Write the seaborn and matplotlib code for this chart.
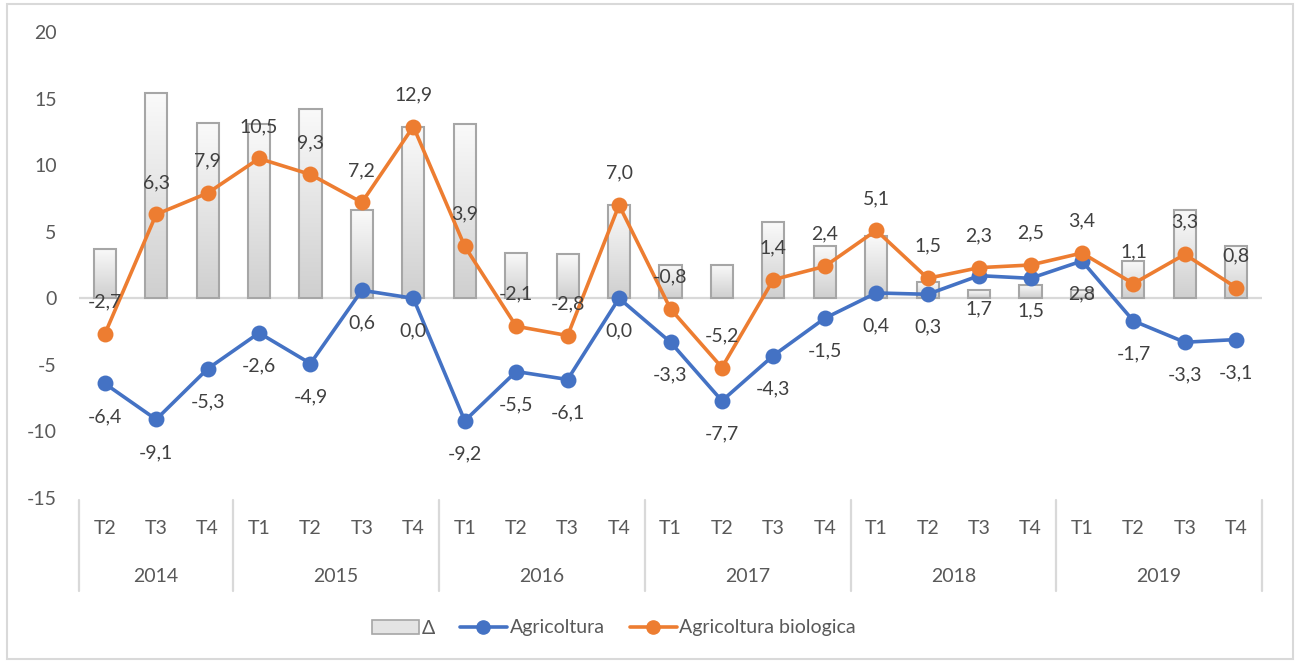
import numpy as np
import pandas as pd
import matplotlib
matplotlib.use("Agg")
import matplotlib.pyplot as plt
import matplotlib.transforms as mtransforms
from matplotlib.patches import Rectangle, Patch
from matplotlib.lines import Line2D
from matplotlib.colors import LinearSegmentedColormap
import seaborn as sns

# ---- data ----
years = ["2014", "2015", "2016", "2017", "2018", "2019"]
quarters_per_year = [["T2", "T3", "T4"],
                     ["T1", "T2", "T3", "T4"],
                     ["T1", "T2", "T3", "T4"],
                     ["T1", "T2", "T3", "T4"],
                     ["T1", "T2", "T3", "T4"],
                     ["T1", "T2", "T3", "T4"]]
agricoltura = [-6.4, -9.1, -5.3, -2.6, -4.9, 0.6, 0.0, -9.2, -5.5, -6.1, 0.0,
               -3.3, -7.7, -4.3, -1.5, 0.4, 0.3, 1.7, 1.5, 2.8, -1.7, -3.3, -3.1]
biologica = [-2.7, 6.3, 7.9, 10.5, 9.3, 7.2, 12.9, 3.9, -2.1, -2.8, 7.0,
             -0.8, -5.2, 1.4, 2.4, 5.1, 1.5, 2.3, 2.5, 3.4, 1.1, 3.3, 0.8]
delta = [3.7, 15.4, 13.2, 13.1, 14.2, 6.6, 12.9, 13.1, 3.4, 3.3, 7.0,
         2.5, 2.5, 5.7, 3.9, 4.7, 1.2, 0.6, 1.0, 0.6, 2.8, 6.6, 3.9]
y_ticks = [-15, -10, -5, 0, 5, 10, 15, 20]

quarters = [q for ql in quarters_per_year for q in ql]
keys = [f"{y} {q}" for y, ql in zip(years, quarters_per_year) for q in ql]
df = pd.DataFrame({"periodo": keys, "trimestre": quarters, "Δ": delta,
                   "Agricoltura": agricoltura, "Agricoltura biologica": biologica})

# ---- style ----
sns.set_theme(style="white")
plt.rcParams["font.family"] = ["Lato", "DejaVu Sans"]
TXT = "#595959"
LBL = "#404040"
BLUE = "#4472C4"
ORANGE = "#ED7D31"
FS = 14

W, H = 1299, 663
fig = plt.figure(figsize=(W / 100, H / 100), dpi=100)
fig.patch.set_facecolor("white")
ax_left, ax_right, ax_top, ax_bottom = 79, 1262, 32, 498
ax = fig.add_axes([ax_left / W, 1 - ax_bottom / H,
                   (ax_right - ax_left) / W, (ax_bottom - ax_top) / H])

# bars
sns.barplot(data=df, x="periodo", y="Δ", order=keys, color="#e4e4e4",
            width=0.43, edgecolor="#a6a6a6", linewidth=1.5, ax=ax, zorder=2)

# gradient fill in bars (light at top, darker at bottom)
grad = np.linspace(0, 1, 256).reshape(-1, 1)
cmap = LinearSegmentedColormap.from_list("g", ["#fafafa", "#cfcfcf"])
for p in list(ax.patches):
    x0, y0 = p.get_x(), p.get_y()
    w, h = p.get_width(), p.get_height()
    im = ax.imshow(grad, extent=(x0, x0 + w, y0, y0 + h), cmap=cmap,
                   aspect="auto", zorder=2, origin="upper")
    im.set_clip_path(p)
    p.set_facecolor("none")
    p.set_zorder(2.5)

# lines
sns.pointplot(data=df, x="periodo", y="Agricoltura", order=keys, color=BLUE,
              markers="o", markersize=9.5, linewidth=2.6, ax=ax, zorder=4)
sns.pointplot(data=df, x="periodo", y="Agricoltura biologica", order=keys,
              color=ORANGE, markers="o", markersize=9.5, linewidth=2.6, ax=ax, zorder=5)

# data labels
def fmt(v):
    return f"{v:.1f}".replace(".", ",")

for i, v in enumerate(agricoltura):
    ax.annotate(fmt(v), xy=(i, v), xytext=(0, -33), textcoords="offset pixels",
                ha="center", va="center", fontsize=FS, color=LBL, zorder=6)
for i, v in enumerate(biologica):
    ax.annotate(fmt(v), xy=(i, v), xytext=(0, 32), textcoords="offset pixels",
                ha="center", va="center", fontsize=FS, color=LBL, zorder=6)

# axes
n = len(keys)
ax.set_xlim(-0.5, n - 0.5)
ax.set_ylim(-15, 20)
ax.set_yticks(y_ticks)
ax.set_yticklabels([str(t) for t in y_ticks])
ax.set_xticks(range(n))
ax.set_xticklabels(quarters)
ax.tick_params(axis="y", length=0, pad=16, labelsize=FS, labelcolor=TXT)
ax.tick_params(axis="x", length=0, pad=16, labelsize=FS, labelcolor=TXT)
ax.set_xlabel("")
ax.set_ylabel("")
for s in ax.spines.values():
    s.set_visible(False)
ax.grid(False)
ax.axhline(0, color="#d9d9d9", lw=1.6, zorder=1)

# year group labels and separators
axh = ax_bottom - ax_top
trans = mtransforms.blended_transform_factory(ax.transData, ax.transAxes)
start = 0
bounds = [-0.5]
for y, ql in zip(years, quarters_per_year):
    end = start + len(ql)
    center = (start + end - 1) / 2
    ax.text(center, -(576 - ax_bottom) / axh, y, transform=trans, ha="center",
            va="center", fontsize=FS, color=TXT)
    bounds.append(end - 0.5)
    start = end
for b in bounds:
    ax.add_line(Line2D([b, b], [-(500 - ax_bottom) / axh, -(591 - ax_bottom) / axh],
                       transform=trans, color="#d9d9d9", lw=1.6, clip_on=False))

# legend
handles = [Patch(facecolor="#e4e4e4", edgecolor="#a6a6a6", linewidth=1.2),
           Line2D([], [], color=BLUE, lw=2.6, marker="o", markersize=9.5),
           Line2D([], [], color=ORANGE, lw=2.6, marker="o", markersize=9.5)]
labels = ["Δ", "Agricoltura", "Agricoltura biologica"]
fig.legend(handles, labels, loc="center", bbox_to_anchor=(614 / W, 1 - 628 / H),
           ncol=3, frameon=False, fontsize=FS, labelcolor=TXT,
           handlelength=2.4, handleheight=0.7, handletextpad=0.15, columnspacing=1.3)

# outer border
fig.patches.append(Rectangle((7 / W, 1 - 659 / H), (1293 - 7) / W, (659 - 4) / H,
                             transform=fig.transFigure, fill=False,
                             edgecolor="#d9d9d9", lw=1.5))

fig.savefig("out.png", dpi=100, facecolor="white")
